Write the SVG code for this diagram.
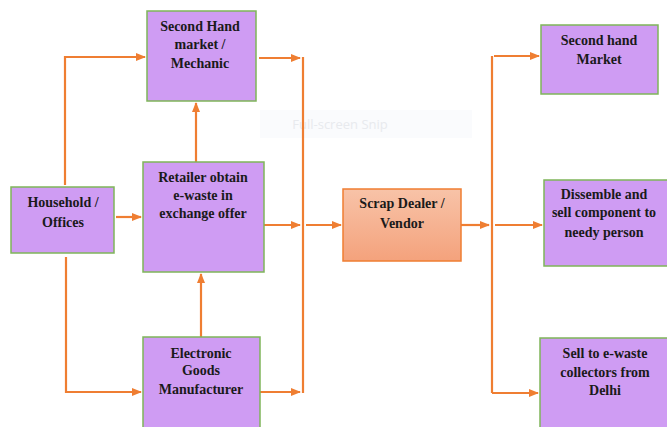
<svg xmlns="http://www.w3.org/2000/svg" width="667" height="427" viewBox="0 0 667 427">
<style>
.box{fill:#cf9cf3;stroke:#7fb55a;stroke-width:1.5}
.t{font-family:'Liberation Serif','DejaVu Serif',serif;font-weight:bold;font-size:14px;fill:#1a1a1a;text-anchor:middle}
.c{fill:none;stroke:#ef7e32;stroke-width:2.2}
</style>
<defs>
<marker id="ah" markerWidth="10" markerHeight="10" refX="9" refY="5" orient="auto" markerUnits="userSpaceOnUse">
<path d="M0,1 L10,5 L0,9 Z" fill="#ef7e32"/>
</marker>
<linearGradient id="og" x1="0" y1="0" x2="0" y2="1">
<stop offset="0" stop-color="#f8c3a8"/>
<stop offset="1" stop-color="#f4a27c"/>
</linearGradient>
</defs>
<rect width="667" height="427" fill="#ffffff"/>
<g id="watermark">
<rect x="260" y="110" width="212" height="28" fill="#fafbfd"/>
<text x="340" y="129" font-family="'Open Sans',sans-serif" font-size="13" fill="#e8eaee" text-anchor="middle">Full-screen Snip</text>
</g>
<g id="connectors">
<polyline class="c" points="65,185 65,57 145,57" marker-end="url(#ah)"/>
<polyline class="c" points="66,257 66,392 141,392" marker-end="url(#ah)"/>
<line class="c" x1="116" y1="217" x2="141" y2="217" marker-end="url(#ah)"/>
<line class="c" x1="196" y1="162" x2="196" y2="103" marker-end="url(#ah)"/>
<line class="c" x1="201" y1="337" x2="201" y2="274" marker-end="url(#ah)"/>
<line class="c" x1="259" y1="58" x2="300" y2="58" marker-end="url(#ah)"/>
<line class="c" x1="264" y1="225" x2="300" y2="225" marker-end="url(#ah)"/>
<line class="c" x1="260" y1="392" x2="300" y2="392" marker-end="url(#ah)"/>
<line class="c" x1="303" y1="57" x2="303" y2="393"/>
<line class="c" x1="306" y1="225" x2="341" y2="225" marker-end="url(#ah)"/>
<line class="c" x1="461" y1="225" x2="489" y2="225" marker-end="url(#ah)"/>
<line class="c" x1="492" y1="56" x2="492" y2="393"/>
<line class="c" x1="494" y1="56" x2="539" y2="56" marker-end="url(#ah)"/>
<line class="c" x1="495" y1="225" x2="542" y2="225" marker-end="url(#ah)"/>
<line class="c" x1="492" y1="393" x2="538" y2="393" marker-end="url(#ah)"/>
</g>
<g id="second-hand-mechanic">
<rect class="box" x="147" y="11" width="109" height="90"/>
<text class="t" x="200" y="31">Second Hand</text>
<text class="t" x="200" y="49">market /</text>
<text class="t" x="200" y="68">Mechanic</text>
</g>
<g id="household">
<rect class="box" x="11" y="187" width="103" height="66"/>
<text class="t" x="63" y="207">Household /</text>
<text class="t" x="63" y="227">Offices</text>
</g>
<g id="retailer">
<rect class="box" x="143" y="162" width="121" height="110"/>
<text class="t" x="203" y="182">Retailer obtain</text>
<text class="t" x="203" y="200">e-waste in</text>
<text class="t" x="203" y="218">exchange offer</text>
</g>
<g id="manufacturer">
<rect class="box" x="143" y="337" width="117" height="95"/>
<text class="t" x="201" y="358">Electronic</text>
<text class="t" x="201" y="375">Goods</text>
<text class="t" x="201" y="394">Manufacturer</text>
</g>
<g id="scrap-dealer">
<rect x="343" y="189" width="118" height="72" fill="url(#og)" stroke="#ef7e32" stroke-width="1.5"/>
<text class="t" x="402" y="208">Scrap Dealer /</text>
<text class="t" x="402" y="228">Vendor</text>
</g>
<g id="second-hand-market">
<rect class="box" x="541" y="25" width="117" height="69"/>
<text class="t" x="599" y="45">Second hand</text>
<text class="t" x="599" y="64">Market</text>
</g>
<g id="dissemble">
<rect class="box" x="544" y="180" width="130" height="86"/>
<text class="t" x="604" y="199">Dissemble and</text>
<text class="t" x="604" y="217">sell component to</text>
<text class="t" x="604" y="237">needy person</text>
</g>
<g id="sell-collectors">
<rect class="box" x="540" y="338" width="134" height="95"/>
<text class="t" x="605" y="358">Sell to e-waste</text>
<text class="t" x="605" y="377">collectors  from</text>
<text class="t" x="605" y="395">Delhi</text>
</g>
</svg>
